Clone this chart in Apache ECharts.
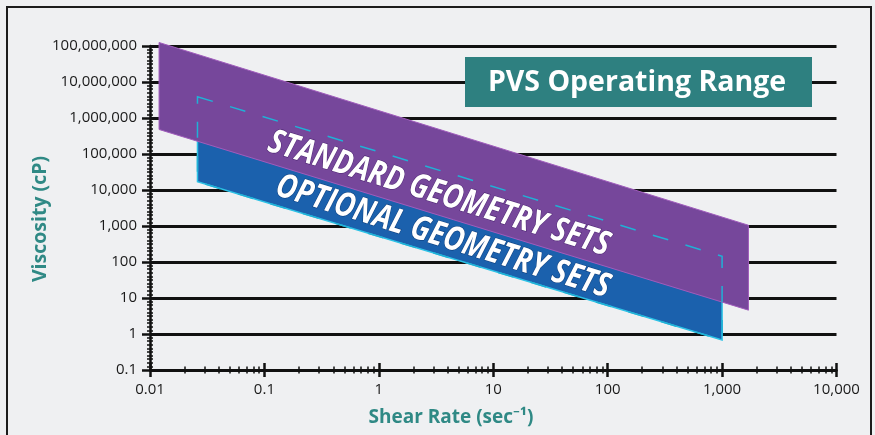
<!DOCTYPE html>
<html><head><meta charset="utf-8">
<script src="https://cdn.jsdelivr.net/npm/echarts@6/dist/echarts.min.js"></script>
<style>html,body{margin:0;padding:0;background:#eff0f2}#c{width:875px;height:435px}</style>
</head><body><div id="c"></div>
<script>
// ---- data ----
const xTickLabels = ['0.01','0.1','1','10','100','1,000','10,000'];
const yTickLabels = ['0.1','1','10','100','1,000','10,000','100,000','1,000,000','10,000,000','100,000,000'];
const standardShear = [0.012, 1700];      // shear rate at left / right end
const standardUpper = [1.25e8, 1050];     // upper viscosity limit
const standardLower = [4.8e5, 4.6];       // lower viscosity limit
const optionalShear = [0.026, 1000];
const optionalUpper = [3.9e6, 145];
const optionalLower = [1.7e4, 0.68];
const titleText = 'PVS Operating Range';
const standardLabel = 'STANDARD GEOMETRY SETS';
const optionalLabel = 'OPTIONAL GEOMETRY SETS';
const xTitle = 'Shear Rate (sec\u207B\u00B9)';
const yTitle = 'Viscosity (cP)';

const FONT = '"Open Sans", "Noto Sans", sans-serif';
const X_MIN = 0.01, X_MAX = 10000, Y_MIN = 0.1, Y_MAX = 1e8;

const xMinor = [], yMinor = [];
for (let k = -2; k < 4; k++) for (let i = 2; i <= 9; i++) xMinor.push(+(i * Math.pow(10, k)).toPrecision(6));
for (let k = -1; k < 8; k++) for (let i = 1; i <= 9; i++) yMinor.push(+Math.pow(10, k + i / 10).toPrecision(8));

function xFmt(v) { const i = Math.round(Math.log10(v)) + 2; return xTickLabels[i] || ''; }
function yFmt(v) { const i = Math.round(Math.log10(v)) + 1; return yTickLabels[i] || ''; }

const bandData = (sx, up, lo) => [[sx[0], up[0], lo[0], sx[1], up[1], lo[1]]];

function bandRender(style) {
  return function (params, api) {
    const pts = [
      api.coord([api.value(0), api.value(1)]),
      api.coord([api.value(3), api.value(4)]),
      api.coord([api.value(3), api.value(5)]),
      api.coord([api.value(0), api.value(2)])
    ];
    return { type: 'polygon', shape: { points: pts }, style: style };
  };
}

const baseX = { type: 'log', logBase: 10, min: X_MIN, max: X_MAX, position: 'bottom', gridIndex: 0 };
const baseY = { type: 'log', logBase: 10, min: Y_MIN, max: Y_MAX, position: 'left', gridIndex: 0 };
const hiddenParts = { axisLabel: { show: false }, splitLine: { show: false } };

const chart = echarts.init(document.getElementById('c'), null, { renderer: 'canvas' });
const option = {
  backgroundColor: '#eff0f2',
  animation: false,
  grid: { left: 150, right: 38.5, top: 46, bottom: 65 },
  xAxis: [
    Object.assign({}, baseX, {
      axisLine: { onZero: false, lineStyle: { color: '#111', width: 2.5 } },
      axisTick: { show: false }, splitLine: { show: false },
      axisLabel: { margin: 12, fontSize: 15, color: '#1a1a1a', fontFamily: FONT, formatter: xFmt }
    }),
    Object.assign({}, baseX, hiddenParts, {
      offset: -7, axisLine: { show: false, onZero: false },
      axisTick: { show: true, length: 14, lineStyle: { color: '#111', width: 2.5 } }
    }),
    Object.assign({}, baseX, hiddenParts, {
      offset: -3.5, axisLine: { show: false, onZero: false },
      axisTick: { show: true, length: 7, customValues: xMinor, lineStyle: { color: '#111', width: 1.5 } }
    })
  ],
  yAxis: [
    Object.assign({}, baseY, {
      axisLine: { onZero: false, lineStyle: { color: '#111', width: 2.5 } },
      axisTick: { show: true, length: 8, lineStyle: { color: '#111', width: 2.5 } },
      splitLine: { show: true, lineStyle: { color: '#111', width: 3 } },
      axisLabel: { margin: 13, fontSize: 15, color: '#1a1a1a', fontFamily: FONT, formatter: yFmt }
    }),
    Object.assign({}, baseY, hiddenParts, {
      offset: -3, axisLine: { show: false, onZero: false },
      axisTick: { show: true, length: 6, customValues: yMinor, lineStyle: { color: '#111', width: 1.5 } }
    })
  ],
  series: [
    {
      type: 'custom', name: 'Optional', clip: false, z: 3,
      xAxisIndex: 0, yAxisIndex: 0, encode: { x: [0, 3], y: [1, 2, 4, 5] },
      data: bandData(optionalShear, optionalUpper, optionalLower),
      renderItem: bandRender({ fill: '#1b61ad', stroke: '#2cc2e6', lineWidth: 1.5 })
    },
    {
      type: 'custom', name: 'Standard', clip: false, z: 4,
      xAxisIndex: 0, yAxisIndex: 0, encode: { x: [0, 3], y: [1, 2, 4, 5] },
      data: bandData(standardShear, standardUpper, standardLower),
      renderItem: bandRender({ fill: '#76479b', stroke: '#a05cbc', lineWidth: 1 })
    },
    {
      type: 'custom', name: 'OptionalOutline', clip: false, z: 5,
      xAxisIndex: 0, yAxisIndex: 0, encode: { x: [0, 3], y: [1, 2, 4, 5] },
      data: bandData(optionalShear, optionalUpper, optionalLower),
      renderItem: bandRender({ fill: 'transparent', stroke: '#20b1d6', lineWidth: 1.5, lineDash: [16, 18] })
    }
  ]
};
chart.setOption(option);

// angle of the bands from the standard band's upper edge
const p0 = chart.convertToPixel({ xAxisIndex: 0, yAxisIndex: 0 }, [standardShear[0], standardUpper[0]]);
const p1 = chart.convertToPixel({ xAxisIndex: 0, yAxisIndex: 0 }, [standardShear[1], standardUpper[1]]);
const angle = Math.atan2(p1[1] - p0[1], p1[0] - p0[0]);

const mctx = document.createElement('canvas').getContext('2d');
function widthOf(str, size) {
  mctx.font = 'italic bold ' + size + 'px ' + FONT;
  return mctx.measureText(str).width;
}
const bandFont = 30;
const sStd = 356 / widthOf(standardLabel, bandFont);
const sOpt = 348 / widthOf(optionalLabel, bandFont);

chart.setOption({
  graphic: { elements: [
    { type: 'rect', silent: true, z: 100, shape: { x: 7, y: 7, width: 864, height: 445 },
      style: { fill: 'transparent', stroke: '#1c1c1c', lineWidth: 2 } },
    { type: 'rect', z: 100, shape: { x: 465, y: 57, width: 347, height: 50 }, style: { fill: '#2e8080' } },
    { type: 'text', z: 101, x: 637, y: 83,
      style: { text: titleText, fill: '#ffffff', font: 'bold 28.5px ' + FONT, textAlign: 'center', textVerticalAlign: 'middle' } },
    { type: 'text', z: 101, x: 40, y: 219, rotation: Math.PI / 2,
      style: { text: yTitle, fill: '#2f8985', font: 'bold 19.5px ' + FONT, textAlign: 'center', textVerticalAlign: 'middle' } },
    { type: 'text', z: 101, x: 451, y: 418,
      style: { text: xTitle, fill: '#2f8985', font: 'bold 19px ' + FONT, textAlign: 'center', textVerticalAlign: 'middle' } },
    { type: 'text', z: 101, x: 439, y: 194, rotation: -angle, scaleX: sStd, scaleY: 1.12,
      style: { text: standardLabel, fill: '#ffffff', font: 'italic bold ' + bandFont + 'px ' + FONT,
               textAlign: 'center', textVerticalAlign: 'middle', stroke: '#4b2470', lineWidth: 1 } },
    { type: 'text', z: 101, x: 443, y: 237, rotation: -angle, scaleX: sOpt, scaleY: 1.12,
      style: { text: optionalLabel, fill: '#ffffff', font: 'italic bold ' + bandFont + 'px ' + FONT,
               textAlign: 'center', textVerticalAlign: 'middle', stroke: '#0b3b78', lineWidth: 1 } }
  ] }
});
</script></body></html>
